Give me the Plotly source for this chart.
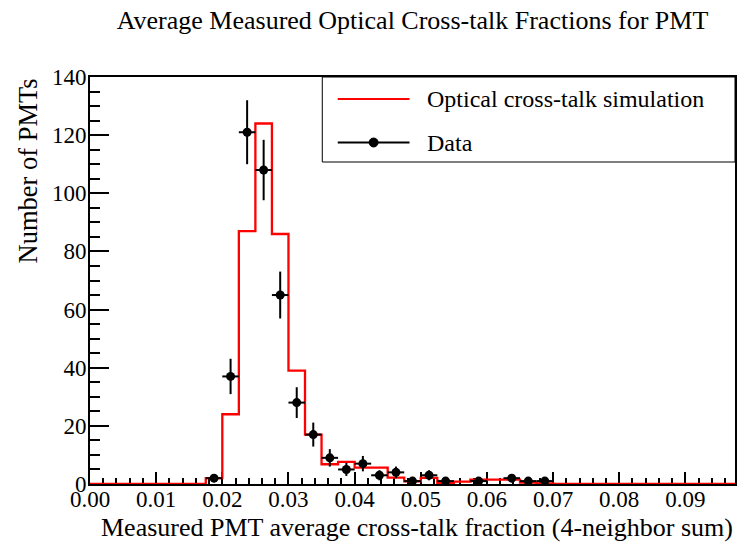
import numpy as np
import plotly.graph_objects as go

# Binning of the cross-talk fraction histograms
bin_width = 0.0025
n_bins = 39
bin_edges = [round(i * bin_width, 5) for i in range(n_bins + 1)]
bin_centers = [round((i + 0.5) * bin_width, 5) for i in range(n_bins)]

# Simulated optical cross-talk distribution (per bin, normalised to data)
sim_counts = [0, 0, 0, 0, 0, 0, 0, 2, 24, 87,
              124, 86, 39, 17, 6.8, 7.6, 5.6, 5.6, 2.2, 0.9,
              2.1, 0.3, 0.8, 1.5, 1.5, 1.5, 0.5, 0.2, 0, 0,
              0, 0, 0, 0, 0, 0, 0, 0, 0]

# Measured number of PMTs per bin
data_counts = [0, 0, 0, 0, 0, 0, 0, 2, 37, 121,
               108, 65, 28, 17, 9, 5, 7, 3, 4, 1,
               3, 1, 0, 1, 0, 2, 1, 1, 0, 0,
               0, 0, 0, 0, 0, 0, 0, 0, 0]

x_tick_vals = [0.00, 0.01, 0.02, 0.03, 0.04, 0.05, 0.06, 0.07, 0.08, 0.09]
x_tick_text = ["0.00", "0.01", "0.02", "0.03", "0.04", "0.05", "0.06", "0.07", "0.08", "0.09"]
y_tick_vals = [0, 20, 40, 60, 80, 100, 120, 140]

FONT = "Liberation Serif, Times New Roman, serif"

fig = go.Figure()

# Step histogram for the simulation
fig.add_trace(go.Scatter(
    x=bin_edges,
    y=sim_counts + [sim_counts[-1]],
    mode="lines",
    line=dict(color="#ff0000", width=2.3, shape="hv"),
    showlegend=False,
    hoverinfo="skip",
))

# Data points with Poisson errors (empty bins are not drawn)
pts_x = [c for c, n in zip(bin_centers, data_counts) if n > 0]
pts_y = [n for n in data_counts if n > 0]
pts_err = [float(np.sqrt(n)) for n in pts_y]
fig.add_trace(go.Scatter(
    x=pts_x,
    y=pts_y,
    mode="markers",
    marker=dict(color="black", size=9),
    error_y=dict(type="data", array=pts_err, color="black", thickness=2, width=0),
    error_x=dict(type="constant", value=bin_width / 2, color="black", thickness=2, width=0),
    showlegend=False,
))

# Paper-space helpers: plot area spans 90..737 px horizontally, 77..484 px vertically
def px(xp):
    return (xp - 90) / 647.0

def py(yp):
    return (484 - yp) / 407.0

shapes = [
    # legend box
    dict(type="rect", xref="paper", yref="paper", x0=px(323), x1=1.0, y0=py(162), y1=1.0,
         line=dict(color="black", width=1), fillcolor="white", layer="above"),
    # simulation entry
    dict(type="line", xref="paper", yref="paper", x0=px(338.5), x1=px(410.5), y0=py(99), y1=py(99),
         line=dict(color="#ff0000", width=2), layer="above"),
    # data entry
    dict(type="line", xref="paper", yref="paper", x0=px(338.5), x1=px(410.5), y0=py(142.5), y1=py(142.5),
         line=dict(color="black", width=2), layer="above"),
    dict(type="circle", xref="paper", yref="paper", xsizemode="pixel", ysizemode="pixel",
         xanchor=px(374.5), yanchor=py(142.5), x0=-4.5, x1=4.5, y0=-4.5, y1=4.5,
         line=dict(color="black", width=1), fillcolor="black", layer="above"),
]

annotations = [
    dict(text="Optical cross-talk simulation", xref="paper", yref="paper",
         x=px(426), y=py(99), xanchor="left", yanchor="middle", showarrow=False,
         font=dict(family=FONT, size=24, color="black")),
    dict(text="Data", xref="paper", yref="paper",
         x=px(426), y=py(142.5), xanchor="left", yanchor="middle", showarrow=False,
         font=dict(family=FONT, size=24, color="black")),
    # axis titles
    dict(text="Measured PMT average cross-talk fraction (4-neighbor sum)", xref="paper", yref="paper",
         x=1.0, y=0, yshift=-43, xanchor="right", yanchor="middle", showarrow=False,
         font=dict(family=FONT, size=26, color="black")),
    dict(text="Number of PMTs", xref="paper", yref="paper", textangle=-90,
         x=0, xshift=-63, y=1.0, xanchor="center", yanchor="top", showarrow=False,
         font=dict(family=FONT, size=26.5, color="black")),
]

fig.update_layout(
    width=745,
    height=544,
    margin=dict(l=90, r=8, t=77, b=60),
    paper_bgcolor="white",
    plot_bgcolor="white",
    title=dict(text="Average Measured Optical Cross-talk Fractions for PMT",
               xref="paper", x=0.5, xanchor="center",
               yref="container", y=1 - 20 / 544, yanchor="middle",
               font=dict(family=FONT, size=26, color="black")),
    shapes=shapes,
    annotations=annotations,
    showlegend=False,
)

fig.update_xaxes(
    range=[0, bin_edges[-1]],
    tickmode="array", tickvals=x_tick_vals, ticktext=x_tick_text,
    ticks="inside", ticklen=12, tickwidth=1.5, tickcolor="black",
    minor=dict(dtick=0.002, tick0=0, ticks="inside", ticklen=6, tickwidth=1.5, tickcolor="black", showgrid=False),
    showline=True, linecolor="black", linewidth=2, mirror=True,
    showgrid=False, zeroline=False, layer="below traces",
    ticklabelstandoff=-7,
    tickfont=dict(family=FONT, size=23, color="black"),
)
fig.update_yaxes(
    range=[0, 140],
    tickmode="array", tickvals=y_tick_vals,
    ticks="inside", ticklen=19, tickwidth=1.5, tickcolor="black",
    minor=dict(dtick=5, tick0=0, ticks="inside", ticklen=10, tickwidth=1.5, tickcolor="black", showgrid=False),
    showline=True, linecolor="black", linewidth=2, mirror=True,
    showgrid=False, zeroline=False,
    ticklabelstandoff=-3,
    tickfont=dict(family=FONT, size=23, color="black"),
)

fig.write_html("out.html")
